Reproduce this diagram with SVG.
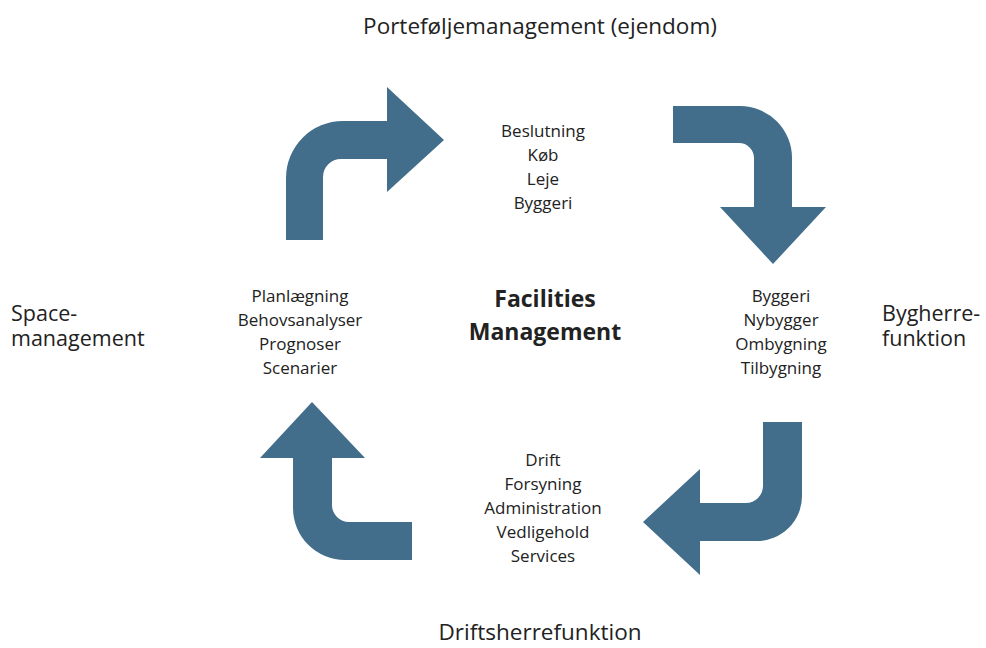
<svg xmlns="http://www.w3.org/2000/svg" width="986" height="648" viewBox="0 0 986 648">
<style>
.arr{fill:#426e8c}
text{font-family:"Open Sans","Noto Sans",sans-serif;fill:#222;text-anchor:middle}
.big{font-size:22.5px}
.side{font-size:21.5px}
.lst{font-size:17px}
.bold{font-size:23px;font-weight:bold}
.l{text-anchor:start}
</style>
<rect width="986" height="648" fill="#fff"/>
<g id="connectors">
<path class="arr" d="M286,240 L286,178 A57,57 0 0 1 343,121 L387,121 L387,87 L444,140 L387,192 L387,159 L341,159 A18,18 0 0 0 323,177 L323,240 Z"/>
<path class="arr" d="M673,106 L740,106 A52,52 0 0 1 792,158 L792,207 L826,207 L773,264 L720,207 L754,207 L754,158 A15,15 0 0 0 739,143 L673,143 Z"/>
<path class="arr" d="M763,422 L802,422 L802,496 A45,45 0 0 1 757,541 L700,541 L700,575 L643,522 L700,469 L700,503 L746,503 A17,17 0 0 0 763,486 Z"/>
<path class="arr" d="M312,402 L365,458 L332,458 L332,505 A17,17 0 0 0 349,522 L412,522 L412,560 L345,560 A52,52 0 0 1 293,508 L293,458 L260,458 Z"/>
</g>
<g id="top-label"><text class="big" x="540" y="34">Porteføljemanagement (ejendom)</text></g>
<g id="top-list"><text class="lst" x="543"><tspan x="543" y="137">Beslutning</tspan><tspan x="543" y="161">Køb</tspan><tspan x="543" y="185">Leje</tspan><tspan x="543" y="209">Byggeri</tspan></text></g>
<g id="center"><text class="bold" x="545"><tspan x="545" y="307">Facilities</tspan><tspan x="545" y="340">Management</tspan></text></g>
<g id="left-list"><text class="lst" x="300"><tspan x="300" y="302">Planlægning</tspan><tspan x="300" y="326">Behovsanalyser</tspan><tspan x="300" y="350">Prognoser</tspan><tspan x="300" y="374">Scenarier</tspan></text></g>
<g id="right-list"><text class="lst" x="781"><tspan x="781" y="302">Byggeri</tspan><tspan x="781" y="326">Nybygger</tspan><tspan x="781" y="350">Ombygning</tspan><tspan x="781" y="374">Tilbygning</tspan></text></g>
<g id="bottom-list"><text class="lst" x="543"><tspan x="543" y="466">Drift</tspan><tspan x="543" y="490">Forsyning</tspan><tspan x="543" y="514">Administration</tspan><tspan x="543" y="538">Vedligehold</tspan><tspan x="543" y="562">Services</tspan></text></g>
<g id="left-label"><text class="side l" x="11"><tspan x="11" y="321">Space-</tspan><tspan x="11" y="346">management</tspan></text></g>
<g id="right-label"><text class="side l" x="882"><tspan x="882" y="321">Bygherre-</tspan><tspan x="882" y="346">funktion</tspan></text></g>
<g id="bottom-label"><text class="big" x="540" y="640">Driftsherrefunktion</text></g>
</svg>
